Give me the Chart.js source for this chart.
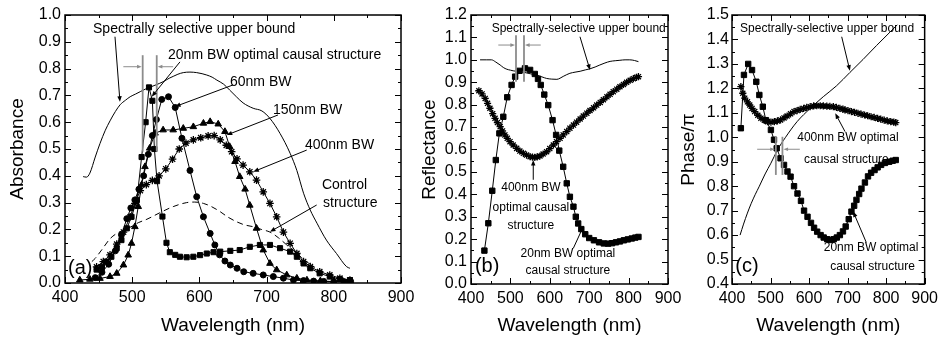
<!DOCTYPE html>
<html>
<head>
<meta charset="utf-8">
<script src="https://cdn.jsdelivr.net/npm/chart.js@4.4.1/dist/chart.umd.min.js"></script>
<style>
  html, body { margin: 0; padding: 0; background: #fff; }
  #wrap { position: relative; width: 943px; height: 341px; }
  #wrap canvas { position: absolute; left: 0; top: 0; }
</style>
</head>
<body>
<div id="wrap">
  <canvas id="panelA" width="943" height="341"></canvas>
  <canvas id="panelB" width="943" height="341"></canvas>
  <canvas id="panelC" width="943" height="341"></canvas>
</div>
<script>
// ---------- DATA (wavelength nm, value) ----------
// (a) Absorbance
const absUpper = [[427,0.397],[432,0.395],[437,0.41],[445,0.47],[452,0.52],[460,0.57],[467,0.605],[475,0.64],[482,0.665],[490,0.682],[497,0.695],[505,0.705],[512,0.714],[520,0.724],[526,0.73],[536,0.74],[546,0.751],[555,0.764],[561,0.771],[568,0.779],[576,0.785],[586,0.787],[596,0.785],[604,0.781],[611,0.776],[619,0.768],[626,0.757],[636,0.742],[645,0.72],[655,0.695],[665,0.672],[680,0.652],[693,0.642],[705,0.614],[720,0.558],[735,0.484],[745,0.42],[755,0.335],[765,0.272],[775,0.223],[789,0.16],[804,0.11],[819,0.061],[824,0.055]];
const abs20nm = [[447,0.05],[455,0.06],[462,0.08],[469,0.098],[477,0.13],[484,0.16],[492,0.204],[499,0.247],[507,0.31],[514,0.47],[520,0.6],[525,0.73],[530,0.68],[533,0.5],[537,0.38],[545,0.248],[551,0.15],[556,0.115],[564,0.105],[571,0.098],[581,0.096],[591,0.098],[601,0.104],[611,0.11],[621,0.115],[631,0.117],[646,0.12],[660,0.123],[675,0.135],[690,0.142],[705,0.142],[720,0.13],[735,0.117],[745,0.098],[755,0.073],[765,0.055],[779,0.036],[794,0.024],[809,0.014],[824,0.011]];
const abs60nm = [[445,0.02],[455,0.04],[465,0.07],[475,0.12],[484,0.18],[492,0.24],[498,0.28],[504,0.31],[510,0.35],[517,0.4],[524,0.48],[530,0.55],[536,0.61],[544,0.685],[554,0.695],[564,0.655],[574,0.54],[586,0.42],[596,0.322],[606,0.247],[616,0.185],[623,0.142],[630,0.105],[638,0.082],[646,0.067],[656,0.055],[666,0.042],[680,0.036],[695,0.03],[710,0.024],[725,0.018],[740,0.011],[755,0.009],[770,0.007],[785,0.006],[800,0.005],[815,0.005],[825,0.005]];
const abs150nm = [[422,0.011],[437,0.014],[452,0.017],[467,0.024],[477,0.036],[487,0.067],[494,0.104],[499,0.148],[504,0.21],[509,0.285],[514,0.366],[519,0.434],[526,0.503],[534,0.559],[546,0.571],[561,0.571],[576,0.577],[591,0.583],[606,0.596],[616,0.602],[628,0.593],[638,0.565],[645,0.509],[653,0.453],[660,0.397],[668,0.35],[675,0.29],[685,0.204],[695,0.123],[705,0.073],[715,0.049],[730,0.03],[745,0.018],[760,0.011],[780,0.008],[800,0.005],[825,0.005]];
const abs400nm = [[447,0.06],[457,0.08],[467,0.105],[477,0.145],[487,0.19],[497,0.247],[504,0.297],[512,0.345],[521,0.367],[530,0.383],[540,0.4],[550,0.426],[560,0.462],[570,0.5],[580,0.522],[591,0.534],[602,0.542],[613,0.549],[622,0.55],[631,0.534],[640,0.514],[648,0.49],[656,0.463],[665,0.44],[675,0.415],[685,0.384],[695,0.34],[705,0.297],[715,0.247],[725,0.19],[735,0.148],[745,0.11],[755,0.08],[765,0.061],[779,0.042],[794,0.03],[809,0.018],[824,0.011]];
const absControl = [[440,0.08],[445,0.092],[455,0.125],[467,0.165],[477,0.185],[490,0.2],[500,0.212],[509,0.225],[522,0.238],[541,0.262],[561,0.285],[581,0.3],[593,0.302],[606,0.297],[618,0.285],[631,0.266],[643,0.245],[655,0.229],[667,0.217],[680,0.21],[692,0.2],[705,0.19],[718,0.168],[730,0.142],[742,0.118],[752,0.095],[762,0.075],[772,0.058]];

// (b) Reflectance
const refUpper = [[423,1.0],[440,1.0],[452,1.0],[463,0.99],[474,0.977],[482,0.966],[491,0.958],[500,0.954],[507,0.951],[520,0.948],[535,0.944],[550,0.938],[567,0.932],[580,0.924],[592,0.917],[605,0.914],[618,0.913],[626,0.918],[634,0.926],[643,0.934],[651,0.94],[664,0.945],[677,0.949],[690,0.955],[702,0.96],[715,0.968],[727,0.977],[740,0.986],[753,0.993],[766,0.996],[778,0.998],[791,1.0],[803,1.0],[815,0.997],[825,0.992]];
const ref20nm = [[434,0.149],[444,0.271],[454,0.416],[463,0.553],[472,0.672],[482,0.746],[492,0.833],[503,0.888],[512,0.925],[523,0.951],[537,0.962],[550,0.955],[562,0.937],[570,0.915],[577,0.888],[586,0.845],[596,0.798],[607,0.731],[616,0.665],[624,0.595],[634,0.523],[643,0.449],[651,0.389],[660,0.345],[666,0.3],[672,0.27],[680,0.245],[690,0.222],[700,0.205],[712,0.195],[725,0.186],[737,0.181],[748,0.18],[758,0.182],[768,0.186],[778,0.19],[788,0.195],[798,0.199],[808,0.203],[817,0.207],[825,0.21]];
const ref400nm = [[420,0.862],[428,0.848],[436,0.828],[442,0.806],[448,0.784],[455,0.76],[461,0.739],[467,0.72],[474,0.702],[480,0.683],[486,0.665],[492,0.65],[499,0.635],[507,0.62],[516,0.605],[524,0.593],[533,0.583],[541,0.575],[550,0.568],[556,0.566],[562,0.565],[568,0.567],[575,0.571],[583,0.58],[592,0.59],[600,0.604],[609,0.62],[617,0.635],[626,0.65],[634,0.665],[643,0.68],[651,0.695],[660,0.709],[668,0.722],[677,0.736],[685,0.749],[694,0.762],[702,0.774],[711,0.786],[719,0.798],[728,0.81],[736,0.822],[745,0.835],[753,0.846],[761,0.858],[770,0.869],[778,0.88],[787,0.89],[795,0.9],[804,0.909],[812,0.916],[820,0.922],[825,0.925]];

// (c) Phase / pi
const phaseUpper = [[421,0.6],[430,0.645],[440,0.69],[450,0.73],[460,0.765],[471,0.8],[486,0.85],[501,0.894],[518,0.948],[539,1.0],[569,1.064],[603,1.118],[637,1.166],[671,1.21],[706,1.265],[740,1.318],[775,1.375],[810,1.43],[829,1.46]];
const phase20nm = [[423,1.037],[431,1.255],[442,1.3],[452,1.275],[463,1.227],[471,1.173],[480,1.125],[488,1.07],[501,1.03],[509,0.99],[516,0.955],[526,0.914],[535,0.887],[544,0.86],[552,0.839],[561,0.8],[570,0.77],[579,0.74],[587,0.7],[596,0.675],[605,0.65],[613,0.63],[621,0.614],[630,0.6],[638,0.59],[647,0.583],[655,0.58],[664,0.583],[672,0.59],[680,0.6],[688,0.615],[695,0.635],[703,0.665],[710,0.696],[717,0.72],[723,0.744],[730,0.768],[736,0.79],[745,0.815],[753,0.84],[761,0.855],[770,0.866],[778,0.877],[787,0.887],[797,0.895],[808,0.9],[817,0.904],[825,0.907]];
const phase400nm = [[423,1.207],[428,1.18],[433,1.16],[440,1.145],[446,1.132],[452,1.118],[459,1.105],[467,1.09],[475,1.078],[484,1.07],[492,1.064],[501,1.062],[510,1.064],[518,1.067],[526,1.071],[535,1.079],[543,1.087],[552,1.096],[561,1.105],[569,1.109],[577,1.114],[586,1.118],[594,1.122],[603,1.125],[612,1.128],[620,1.129],[629,1.129],[637,1.128],[646,1.127],[654,1.126],[663,1.125],[671,1.122],[680,1.118],[688,1.115],[693,1.112],[701,1.109],[710,1.105],[718,1.102],[727,1.098],[735,1.095],[744,1.091],[752,1.088],[761,1.084],[769,1.081],[778,1.077],[786,1.074],[795,1.07],[803,1.067],[812,1.064],[820,1.062],[825,1.06]];

// ---------- ANNOTATIONS (data coords) ----------
const notesA = {
    texts: [
        { t: "Spectrally selective upper bound", at: [441.7, 0.948], size: 14 },
        { t: "20nm BW optimal causal structure", at: [553.3, 0.851], size: 14 },
        { t: "60nm BW", at: [645.5, 0.75], size: 14 },
        { t: "150nm BW", at: [709.5, 0.646], size: 14 },
        { t: "400nm BW", at: [757, 0.515], size: 14 },
        { t: "Control", at: [782.4, 0.366], size: 14 },
        { t: "structure", at: [784, 0.299], size: 14 },
        { t: "(a)", at: [404.5, 0.056], size: 20 }
    ],
    arrows: [
        [[474.4, 0.919], [481.8, 0.676]],
        [[571.1, 0.825], [529, 0.695]],
        [[650, 0.739], [563.7, 0.658]],
        [[717, 0.627], [640.6, 0.552]],
        [[759.7, 0.496], [680.2, 0.415]],
        [[774.5, 0.291], [705, 0.191]]
    ],
    bars: { xs: [515.6, 536.5], y: [0.85, 0.49], arrowY: 0.807, outer: [486.8, 561] }
};

const notesB = {
    texts: [
        { t: "Spectrally-selective upper bound", at: [452.5, 1.137], size: 12 },
        { t: "400nm BW", at: [552, 0.43], size: 12, align: "center" },
        { t: "optimal causal", at: [552, 0.342], size: 12, align: "center" },
        { t: "structure", at: [552, 0.262], size: 12, align: "center" },
        { t: "20nm BW optimal", at: [646, 0.134], size: 12, align: "center" },
        { t: "causal structure", at: [646, 0.058], size: 12, align: "center" },
        { t: "(b)", at: [410, 0.076], size: 20 }
    ],
    arrows: [
        [[676.6, 1.103], [702, 0.955]],
        [[558, 0.465], [558, 0.553]],
        [[659.6, 0.159], [685, 0.256]]
    ],
    bars: { xs: [514.2, 534.5], y: [1.11, 0.902], arrowY: 1.066, outer: [469.3, 577] }
};

const notesC = {
    texts: [
        { t: "Spectrally-selective upper bound", at: [421, 1.443], size: 12 },
        { t: "400nm BW optimal", at: [569.4, 1.0], size: 12 },
        { t: "causal structure", at: [587, 0.907], size: 12 },
        { t: "20nm BW optimal", at: [638, 0.547], size: 12 },
        { t: "causal structure", at: [655, 0.47], size: 12 }
        ,{ t: "(c)", at: [408.4, 0.47], size: 20 }
    ],
    arrows: [
        [[684.7, 1.411], [706, 1.272]],
        [[693.4, 1.023], [668, 1.098]],
        [[748.5, 0.57], [714.5, 0.696]]
    ],
    bars: { xs: [513.8, 530.9], y: [1.002, 0.846], arrowY: 0.951, outer: [465.3, 576] }
};

// ---------- HELPERS ----------
const FONT = "'Liberation Sans', Arial, Helvetica, sans-serif";
Chart.defaults.font.family = FONT;
Chart.defaults.color = "#000";

const toPts = arr => arr.map(p => ({ x: p[0], y: p[1] }));

function plainLine(arr, dash) {
    return {
        data: toPts(arr), borderColor: "#000", borderWidth: 1,
        borderDash: dash || [], pointRadius: 0, tension: 0.3, cubicInterpolationMode: "monotone"
    };
}

function markedLine(arr, style, radius) {
    return {
        data: toPts(arr), borderColor: "#000", backgroundColor: "#000", borderWidth: 1,
        pointStyle: style, pointRadius: radius, pointBorderWidth: style === "star" ? 1.3 : 1,
        pointBackgroundColor: "#000", pointBorderColor: "#000", tension: 0
    };
}

function arrow(ctx, x1, y1, x2, y2, color, head) {
    const ang = Math.atan2(y2 - y1, x2 - x1);
    ctx.strokeStyle = color;
    ctx.fillStyle = color;
    ctx.lineWidth = 1;
    ctx.beginPath();
    ctx.moveTo(x1, y1);
    ctx.lineTo(x2 - Math.cos(ang) * head * 0.7, y2 - Math.sin(ang) * head * 0.7);
    ctx.stroke();
    ctx.beginPath();
    ctx.moveTo(x2, y2);
    ctx.lineTo(x2 - head * Math.cos(ang - 0.38), y2 - head * Math.sin(ang - 0.38));
    ctx.lineTo(x2 - head * Math.cos(ang + 0.38), y2 - head * Math.sin(ang + 0.38));
    ctx.closePath();
    ctx.fill();
}

// frame with inward ticks on all four sides + annotations
const framePlugin = {
    id: "frame",
    afterDatasetsDraw(chart, args, opts) {
        const { ctx, chartArea: { left, right, top, bottom }, scales: { x, y } } = chart;
        ctx.save();
        ctx.strokeStyle = "#000";
        ctx.lineWidth = 1.5;
        ctx.strokeRect(left, top, right - left, bottom - top);

        ctx.lineWidth = 1;
        const seg = (a, b, c, d) => { ctx.beginPath(); ctx.moveTo(a, b); ctx.lineTo(c, d); ctx.stroke(); };
        const nx = Math.round((x.max - x.min) / opts.xMinor);
        for (let i = 0; i <= nx; i++) {
            const px = Math.round(x.getPixelForValue(x.min + i * opts.xMinor)) + 0.5;
            const len = i % 2 === 0 ? 6 : 3;
            seg(px, bottom, px, bottom - len);
            seg(px, top, px, top + len);
        }
        const ny = Math.round((y.max - y.min) / opts.yMinor);
        for (let i = 0; i <= ny; i++) {
            const py = Math.round(y.getPixelForValue(y.min + i * opts.yMinor)) + 0.5;
            const len = i % 2 === 0 ? 6 : 3;
            seg(left, py, left + len, py);
            seg(right, py, right - len, py);
        }

        const notes = opts.notes;
        // gray bandwidth markers
        const b = notes.bars;
        ctx.strokeStyle = "#8c8c8c";
        ctx.lineWidth = 1.8;
        b.xs.forEach(v => {
            const px = x.getPixelForValue(v);
            seg(px, y.getPixelForValue(b.y[0]), px, y.getPixelForValue(b.y[1]));
        });
        const ay = y.getPixelForValue(b.arrowY);
        arrow(ctx, x.getPixelForValue(b.outer[0]), ay, x.getPixelForValue(b.xs[0]) - 1, ay, "#8c8c8c", 5);
        arrow(ctx, x.getPixelForValue(b.outer[1]), ay, x.getPixelForValue(b.xs[1]) + 1, ay, "#8c8c8c", 5);

        notes.arrows.forEach(([p, q]) => {
            arrow(ctx, x.getPixelForValue(p[0]), y.getPixelForValue(p[1]),
                x.getPixelForValue(q[0]), y.getPixelForValue(q[1]), "#000", 6);
        });

        ctx.fillStyle = "#000";
        ctx.textBaseline = "middle";
        notes.texts.forEach(n => {
            ctx.font = `${n.size}px ${FONT}`;
            ctx.textAlign = n.align || "left";
            ctx.fillText(n.t, x.getPixelForValue(n.at[0]), y.getPixelForValue(n.at[1]));
        });
        ctx.restore();
    }
};

function makePanel(id, cfg) {
    return new Chart(document.getElementById(id), {
        type: "line",
        data: { datasets: cfg.datasets },
        options: {
            responsive: false,
            animation: false,
            events: [],
            layout: { padding: { left: cfg.padLeft, right: cfg.padRight, top: 15, bottom: 0 } },
            plugins: {
                legend: { display: false },
                tooltip: { enabled: false },
                frame: { xMinor: 50, yMinor: 0.05, notes: cfg.notes }
            },
            scales: {
                x: {
                    type: "linear", min: 400, max: 900,
                    ticks: { stepSize: 100, padding: 5, maxRotation: 0, font: { size: 16 } },
                    grid: { display: false, drawTicks: false },
                    border: { display: false },
                    title: { display: true, text: "Wavelength (nm)", font: { size: 19 } },
                    afterFit(s) { s.height = cfg.xHeight; }
                },
                y: {
                    type: "linear", min: cfg.yMin, max: cfg.yMax,
                    ticks: { stepSize: 0.1, padding: cfg.yPad, font: { size: 16 }, callback: v => v.toFixed(1) },
                    grid: { display: false, drawTicks: false },
                    border: { display: false },
                    title: { display: true, text: cfg.yTitle, font: { size: 19 }, padding: { top: cfg.titlePad, bottom: 0 } },
                    afterFit(s) { s.width = cfg.yWidth; }
                }
            }
        },
        plugins: [framePlugin]
    });
}

// ---------- PANELS ----------
makePanel("panelA", {
    padLeft: 0, yWidth: 65, padRight: 542, xHeight: 58, titlePad: 6, yPad: 4,
    yMin: 0, yMax: 1.0, yTitle: "Absorbance", notes: notesA,
    datasets: [
        plainLine(absUpper),
        plainLine(absControl, [6, 4]),
        markedLine(abs20nm, "rect", 3.6),
        markedLine(abs60nm, "circle", 3),
        markedLine(abs150nm, "triangle", 3.8),
        markedLine(abs400nm, "star", 3.8)
    ]
});

makePanel("panelB", {
    padLeft: 414, yWidth: 57, padRight: 275, xHeight: 57, titlePad: 4, yPad: 4,
    yMin: 0, yMax: 1.2, yTitle: "Reflectance", notes: notesB,
    datasets: [
        plainLine(refUpper),
        markedLine(ref20nm, "rect", 3.8),
        markedLine(ref400nm, "star", 3.6)
    ]
});

makePanel("panelC", {
    padLeft: 673, yWidth: 59, padRight: 15, xHeight: 57, titlePad: 4, yPad: 3,
    yMin: 0.4, yMax: 1.5, yTitle: "Phase/\u03c0", notes: notesC,
    datasets: [
        plainLine(phaseUpper),
        markedLine(phase20nm, "rect", 3.8),
        markedLine(phase400nm, "star", 3.6)
    ]
});
</script>
</body>
</html>
